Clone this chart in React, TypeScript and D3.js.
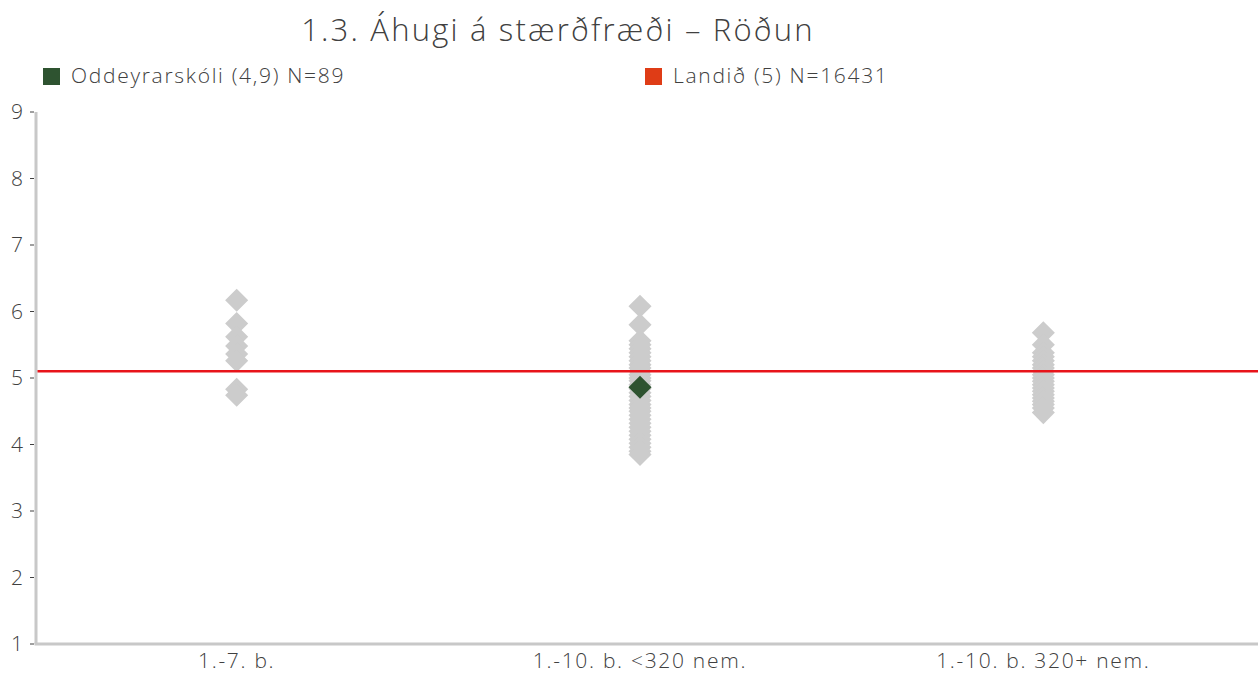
import { useEffect, useRef } from 'react';
import * as d3 from 'd3';

const TITLE = '1.3. Áhugi á stærðfræði – Röðun';
const CATEGORIES = ['1.-7. b.', '1.-10. b. <320 nem.', '1.-10. b. 320+ nem.'];
const Y_TICKS = [1, 2, 3, 4, 5, 6, 7, 8, 9];

// other schools per category (grey diamonds)
const GROUP_1 = [6.17, 5.82, 5.62, 5.48, 5.36, 5.26, 4.83, 4.74];
const GROUP_2 = [
    6.08, 5.8, 5.56, 5.5, 5.44, 5.38, 5.32, 5.26, 5.2, 5.15, 5.1, 5.05, 5.0, 4.96,
    4.9, 4.84, 4.78, 4.72, 4.66, 4.6, 4.55, 4.5, 4.44, 4.38, 4.32, 4.26, 4.2, 4.14,
    4.08, 4.02, 3.96, 3.9, 3.85,
];
const GROUP_3 = [
    5.68, 5.5, 5.38, 5.32, 5.26, 5.2, 5.15, 5.1, 5.05, 5.0, 4.95, 4.9, 4.85, 4.8,
    4.75, 4.7, 4.65, 4.6, 4.55, 4.48,
];
const OTHERS = [GROUP_1, GROUP_2, GROUP_3];

const SCHOOL_LABEL = 'Oddeyrarskóli (4,9) N=89';
const SCHOOL_CATEGORY = '1.-10. b. <320 nem.';
const SCHOOL_VALUE = 4.86;
const NATIONAL_LABEL = 'Landið (5) N=16431';
const NATIONAL_VALUE = 5.1;

const COLORS = {
    text: '#404040',
    axis: '#c8c8c8',
    grey: '#cccccc',
    school: '#2e5330',
    line: '#e8141a',
    legendRed: '#df3c16',
};
const FONT = '"Open Sans", Lato, sans-serif';

export default function App() {
    const svgRef = useRef<SVGSVGElement | null>(null);
    const width = 1258;
    const height = 673;

    useEffect(() => {
        if (!svgRef.current) return;
        const svg = d3.select(svgRef.current);
        svg.selectAll('*').remove();

        const left = 36, right = 1246, top = 112, bottom = 644;

        const x = d3.scaleBand<string>().domain(CATEGORIES).range([left, right]);
        const y = d3.scaleLinear().domain([1, 9]).range([bottom, top]);
        const cx = (c: string) => (x(c) ?? 0) + x.bandwidth() / 2 - 1;

        // the original typeface is wider, so spread letters a little
        const text = (sel: d3.Selection<SVGTextElement, unknown, null, undefined>, size: number, spacing = 1.7) =>
            sel.style('font-family', FONT).style('font-size', `${size}px`)
                .style('font-weight', 300).style('letter-spacing', `${spacing}px`)
                .style('fill', COLORS.text);

        // Title
        text(svg.append('text')
            .attr('x', 558).attr('y', 41)
            .attr('text-anchor', 'middle'), 31, 2.2)
            .text(TITLE);

        // Legend
        const legend = [
            { label: SCHOOL_LABEL, color: COLORS.school, x: 43 },
            { label: NATIONAL_LABEL, color: COLORS.legendRed, x: 645 },
        ];
        legend.forEach(item => {
            svg.append('rect')
                .attr('x', item.x).attr('y', 68).attr('width', 17).attr('height', 17)
                .attr('fill', item.color);
            text(svg.append('text')
                .attr('x', item.x + 28).attr('y', 83), 21)
                .text(item.label);
        });

        // Axes lines
        svg.append('line')
            .attr('x1', left).attr('x2', left).attr('y1', top).attr('y2', bottom)
            .attr('stroke', COLORS.axis).attr('stroke-width', 3);
        svg.append('line')
            .attr('x1', left - 1.5).attr('x2', width).attr('y1', bottom).attr('y2', bottom)
            .attr('stroke', COLORS.axis).attr('stroke-width', 3);

        // Y ticks
        Y_TICKS.forEach(t => {
            svg.append('line')
                .attr('x1', left - 6).attr('x2', left - 2)
                .attr('y1', y(t)).attr('y2', y(t))
                .attr('stroke', COLORS.text).attr('stroke-width', 1);
            text(svg.append('text')
                .attr('x', left - 13).attr('y', y(t) + 7)
                .attr('text-anchor', 'end'), 21, 0)
                .text(t);
        });

        // X labels
        CATEGORIES.forEach(c => {
            text(svg.append('text')
                .attr('x', cx(c)).attr('y', bottom + 24)
                .attr('text-anchor', 'middle'), 21)
                .text(c);
        });

        const diamond = d3.symbol().type(d3.symbolDiamond2).size(340);

        // grey diamonds
        OTHERS.forEach((vals, i) => {
            svg.append('g').selectAll('path')
                .data(vals)
                .join('path')
                .attr('d', diamond)
                .attr('transform', d => `translate(${cx(CATEGORIES[i])},${y(d)})`)
                .attr('fill', COLORS.grey);
        });

        // national line
        svg.append('line')
            .attr('x1', left + 1.5).attr('x2', width)
            .attr('y1', y(NATIONAL_VALUE)).attr('y2', y(NATIONAL_VALUE))
            .attr('stroke', COLORS.line).attr('stroke-width', 2.5);

        // school diamond
        svg.append('path')
            .attr('d', diamond)
            .attr('transform', `translate(${cx(SCHOOL_CATEGORY)},${y(SCHOOL_VALUE)})`)
            .attr('fill', COLORS.school);
    }, []);

    return (
        <svg ref={svgRef} width={width} height={height}
            style={{ position: 'absolute', left: 0, top: 0, background: '#fff' }} />
    );
}
